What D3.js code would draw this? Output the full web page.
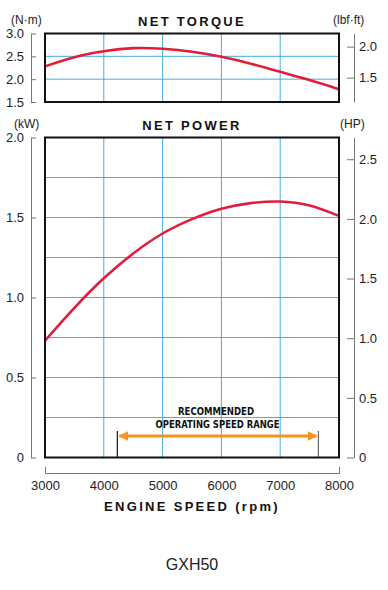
<!DOCTYPE html>
<html>
<head>
<meta charset="UTF-8" />
<script src="https://d3js.org/d3.v7.min.js"></script>
<title>GXH50</title>
<style>
  body { margin: 0; background: #fff; }
  svg { display: block; font-family: "Liberation Sans", Arial, sans-serif; }
  .axis text { font-size: 13px; fill: #222; }
  .axis path, .axis line { stroke: #777; }
  .ttl { font-weight: bold; font-size: 13px; letter-spacing: 2.3px; fill: #111; }
  .unit { font-size: 12px; fill: #222; }
</style>
</head>
<body>
<div id="chart"></div>
<script>
// engine speed samples (rpm)
const rpm = [3000, 3500, 4000, 4500, 5000, 5500, 6000, 6500, 7000, 7500, 8000];
// net torque (N·m)
const torque = [2.28, 2.48, 2.61, 2.68, 2.665, 2.60, 2.49, 2.34, 2.16, 1.98, 1.78];
// net power (kW)
const power = [0.73, 0.935, 1.12, 1.275, 1.40, 1.49, 1.555, 1.59, 1.60, 1.575, 1.51];

const xTicks = [3000, 4000, 5000, 6000, 7000, 8000];
const torqueTicks = [1.5, 2.0, 2.5, 3.0];
const lbfTicks = [1.5, 2.0];
const kwTicks = [0, 0.5, 1.0, 1.5, 2.0];
const kwGrid = [0.25, 0.5, 0.75, 1.0, 1.25, 1.5, 1.75];
const hpTicks = [0, 0.5, 1.0, 1.5, 2.0, 2.5];
const rangeRpm = [4230, 7650];
const NM_PER_LBFFT = 1.35582, KW_PER_HP = 0.7457;

const W = 388, H = 590;
const svg = d3.select("#chart").append("svg").attr("width", W).attr("height", H);

const x = d3.scaleLinear().domain([3000, 8000]).range([45, 339]);
const yT = d3.scaleLinear().domain([1.5, 3.0]).range([102, 33.5]);
const yTr = d3.scaleLinear().domain([1.5 / NM_PER_LBFFT, 3.0 / NM_PER_LBFFT]).range([102, 33.5]);
const yP = d3.scaleLinear().domain([0, 2]).range([457.5, 137.5]);
const yPr = d3.scaleLinear().domain([0, 2 / KW_PER_HP]).range([457.5, 137.5]);

const fmt = d => d === 0 ? "0" : d.toFixed(1);
const gridColor = "#45aee0";
const red = "#e21d3c";

function panel(yScale, hGrid) {
  const [y0, y1] = yScale.range();
  const g = svg.append("g");
  g.selectAll(".hg").data(hGrid).join("line")
    .attr("x1", x(3000)).attr("x2", x(8000))
    .attr("y1", d => yScale(d)).attr("y2", d => yScale(d))
    .attr("stroke", gridColor).attr("stroke-width", 1);
  g.selectAll(".vg").data(xTicks.slice(1, -1)).join("line")
    .attr("x1", d => x(d)).attr("x2", d => x(d))
    .attr("y1", y0).attr("y2", y1)
    .attr("stroke", gridColor).attr("stroke-width", 1);
  return g;
}

function box(yScale) {
  const [y0, y1] = yScale.range();
  svg.append("rect")
    .attr("x", x(3000)).attr("y", y1)
    .attr("width", x(8000) - x(3000)).attr("height", y0 - y1)
    .attr("fill", "none").attr("stroke", "#111").attr("stroke-width", 2);
}

function curve(yScale, vals) {
  svg.append("path")
    .datum(rpm.map((r, i) => [r, vals[i]]))
    .attr("fill", "none").attr("stroke", red).attr("stroke-width", 2.6)
    .attr("d", d3.line().x(d => x(d[0])).y(d => yScale(d[1])).curve(d3.curveNatural));
}

function sideAxes(yl, lt, yr, rt) {
  svg.append("g").attr("class", "axis").attr("transform", "translate(31,0)")
    .call(d3.axisLeft(yl).tickValues(lt).tickFormat(fmt).tickSizeInner(-5).tickSizeOuter(0).tickPadding(7));
  svg.append("g").attr("class", "axis").attr("transform", "translate(354,0)")
    .call(d3.axisRight(yr).tickValues(rt).tickFormat(fmt).tickSizeInner(-7).tickSizeOuter(0).tickPadding(5));
}

// torque panel
panel(yT, [2.0, 2.5]);
curve(yT, torque);
box(yT);
sideAxes(yT, torqueTicks, yTr, lbfTicks);
svg.append("text").attr("class", "ttl").attr("x", 192).attr("y", 26).attr("text-anchor", "middle").text("NET TORQUE");
svg.append("text").attr("class", "unit").attr("x", 11).attr("y", 24).text("(N·m)");
svg.append("text").attr("class", "unit").attr("x", 333).attr("y", 24).text("(lbf·ft)");

// power panel
panel(yP, kwGrid);
curve(yP, power);

// recommended operating range
const ry = 436;
svg.selectAll(".rl").data(rangeRpm).join("line")
  .attr("x1", d => x(d)).attr("x2", d => x(d))
  .attr("y1", ry - 5).attr("y2", yP(0))
  .attr("stroke", (d, i) => i ? "#666" : "#111").attr("stroke-width", 1.2);
const defs = svg.append("defs");
defs.append("marker").attr("id", "ah").attr("viewBox", "0 0 10 10")
  .attr("refX", 9).attr("refY", 5).attr("markerWidth", 3.2).attr("markerHeight", 3.2)
  .attr("orient", "auto-start-reverse")
  .append("path").attr("d", "M0,0L10,5L0,10Z").attr("fill", "#f7941d");
svg.append("line")
  .attr("x1", x(rangeRpm[0]) + 2).attr("x2", x(rangeRpm[1]) - 2)
  .attr("y1", ry).attr("y2", ry)
  .attr("stroke", "#f7941d").attr("stroke-width", 3)
  .attr("marker-start", "url(#ah)").attr("marker-end", "url(#ah)");
const rt = svg.append("g").attr("font-family", "'Liberation Sans Narrow', 'DejaVu Sans Condensed', sans-serif")
  .attr("font-weight", "bold").attr("font-size", 10.5).attr("fill", "#111").attr("text-anchor", "middle");
rt.append("text").attr("x", 216).attr("y", 415).attr("textLength", 76).attr("lengthAdjust", "spacingAndGlyphs").text("RECOMMENDED");
rt.append("text").attr("x", 217.5).attr("y", 427.5).attr("textLength", 124).attr("lengthAdjust", "spacingAndGlyphs").text("OPERATING SPEED RANGE");

box(yP);
sideAxes(yP, kwTicks, yPr, hpTicks);
svg.append("text").attr("class", "ttl").attr("x", 192).attr("y", 130).attr("text-anchor", "middle").text("NET POWER");
svg.append("text").attr("class", "unit").attr("x", 14).attr("y", 128).text("(kW)");
svg.append("text").attr("class", "unit").attr("x", 340).attr("y", 128).text("(HP)");

// x axis
svg.append("g").attr("class", "axis").attr("transform", "translate(0,473)")
  .call(d3.axisBottom(x).tickValues(xTicks).tickFormat(d3.format("d")).tickSizeInner(0).tickSizeOuter(-6).tickPadding(8));
svg.append("text").attr("class", "ttl").attr("x", 192).attr("y", 511).attr("text-anchor", "middle").text("ENGINE SPEED (rpm)");

svg.append("text").attr("x", 192).attr("y", 570).attr("text-anchor", "middle")
  .attr("font-size", 16).attr("fill", "#222").text("GXH50");
</script>
</body>
</html>
